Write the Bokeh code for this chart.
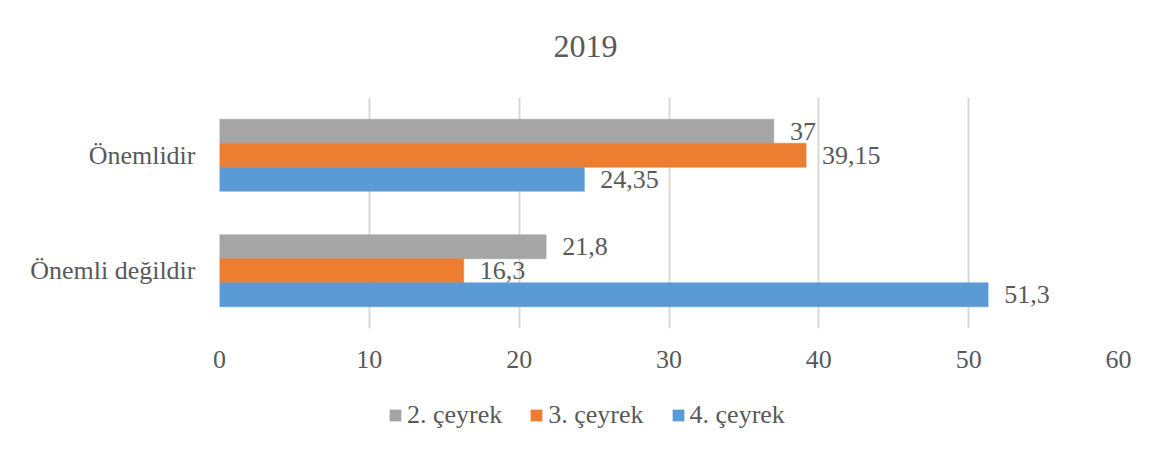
from bokeh.plotting import figure
from bokeh.models import ColumnDataSource, FactorRange, Range1d, Legend, LegendItem, FixedTicker, Label
from bokeh.layouts import column
from bokeh.transform import dodge
from bokeh.embed import file_html
from bokeh.resources import INLINE

title_text = "2019"
categories = ["Önemli değildir", "Önemlidir"]
series_names = ["2. çeyrek", "3. çeyrek", "4. çeyrek"]
q2 = [21.8, 37]
q3 = [16.3, 39.15]
q4 = [51.3, 24.35]
label_q2 = ["21,8", "37"]
label_q3 = ["16,3", "39,15"]
label_q4 = ["51,3", "24,35"]
colors = ["#A5A5A5", "#ED7D31", "#5B9BD5"]
x_ticks = [0, 10, 20, 30, 40, 50, 60]

FONT = "Liberation Serif"
TXT = "#595959"
W = 1155

src = ColumnDataSource(data=dict(cat=categories, q2=q2, q3=q3, q4=q4,
                                 l2=label_q2, l3=label_q3, l4=label_q4))
fields = ["q2", "q3", "q4"]
lbls = ["l2", "l3", "l4"]

# ---------- header (title) ----------
tp = figure(width=W, height=70, output_backend="svg", toolbar_location=None,
            x_axis_location=None, y_axis_location=None,
            x_range=Range1d(0, 1), y_range=Range1d(0, 1), min_border=0)
tp.grid.visible = False
tp.outline_line_color = None
tp.add_layout(Label(x=366, y=24, x_units="screen", y_units="screen", text=title_text,
                    text_align="center", text_baseline="middle",
                    text_font=FONT, text_font_size="32px", text_color=TXT))

# ---------- main chart ----------
p = figure(frame_width=899, frame_height=231, output_backend="svg", toolbar_location=None,
           y_range=FactorRange(factors=categories, range_padding=0),
           x_range=Range1d(0, 60),
           min_border_left=219, min_border_right=37, min_border_top=27, min_border_bottom=50)

h = 0.208
offsets = [h, 0.0, -h]
for f, lf, c, off in zip(fields, lbls, colors, offsets):
    p.hbar(y=dodge("cat", off, range=p.y_range), left=0, right=f, height=h,
           source=src, fill_color=c, line_color=c, line_width=0.5)
    p.text(x=f, y=dodge("cat", off, range=p.y_range), text=lf, source=src,
           x_offset=16, text_align="left", text_baseline="middle",
           text_font={"value": FONT}, text_font_size="26px", text_color=TXT)

p.xaxis.ticker = FixedTicker(ticks=x_ticks)
p.xaxis.axis_line_color = None
p.xaxis.major_tick_line_color = None
p.xaxis.minor_tick_line_color = None
p.xaxis.major_label_standoff = 16
p.xaxis.major_label_text_font = FONT
p.xaxis.major_label_text_font_size = "26px"
p.xaxis.major_label_text_color = TXT

p.yaxis.axis_line_color = None
p.yaxis.major_tick_line_color = None
p.yaxis.minor_tick_line_color = None
p.yaxis.major_label_standoff = 18
p.yaxis.major_label_text_font = FONT
p.yaxis.major_label_text_font_size = "26px"
p.yaxis.major_label_text_color = TXT

p.xgrid.grid_line_color = "#d9d9d9"
p.xgrid.grid_line_width = 2
p.ygrid.grid_line_color = None
p.outline_line_color = None

# ---------- legend strip ----------
lp = figure(width=W, height=68, output_backend="svg", toolbar_location=None,
            x_axis_location=None, y_axis_location=None,
            x_range=Range1d(0, 60), y_range=FactorRange(factors=categories), min_border=0)
lp.grid.visible = False
lp.outline_line_color = None
items = []
for n, f, c in zip(series_names, fields, colors):
    r = lp.hbar(y="cat", right=f, left=0, height=0.2, source=src,
                fill_color=c, line_color=c, line_width=0.5, visible=False)
    items.append(LegendItem(label=n, renderers=[r]))
legend = Legend(items=items, orientation="horizontal", location=(169, 16),
                glyph_width=14, glyph_height=14, label_standoff=5, spacing=27,
                padding=0, margin=0, border_line_color=None, background_fill_alpha=0,
                inactive_fill_alpha=0,
                label_text_font=FONT, label_text_font_size="26px", label_text_color=TXT)
lp.add_layout(legend, "center")

layout = column(tp, p, lp, spacing=0)
open("out.html", "w").write(file_html(layout, INLINE))
